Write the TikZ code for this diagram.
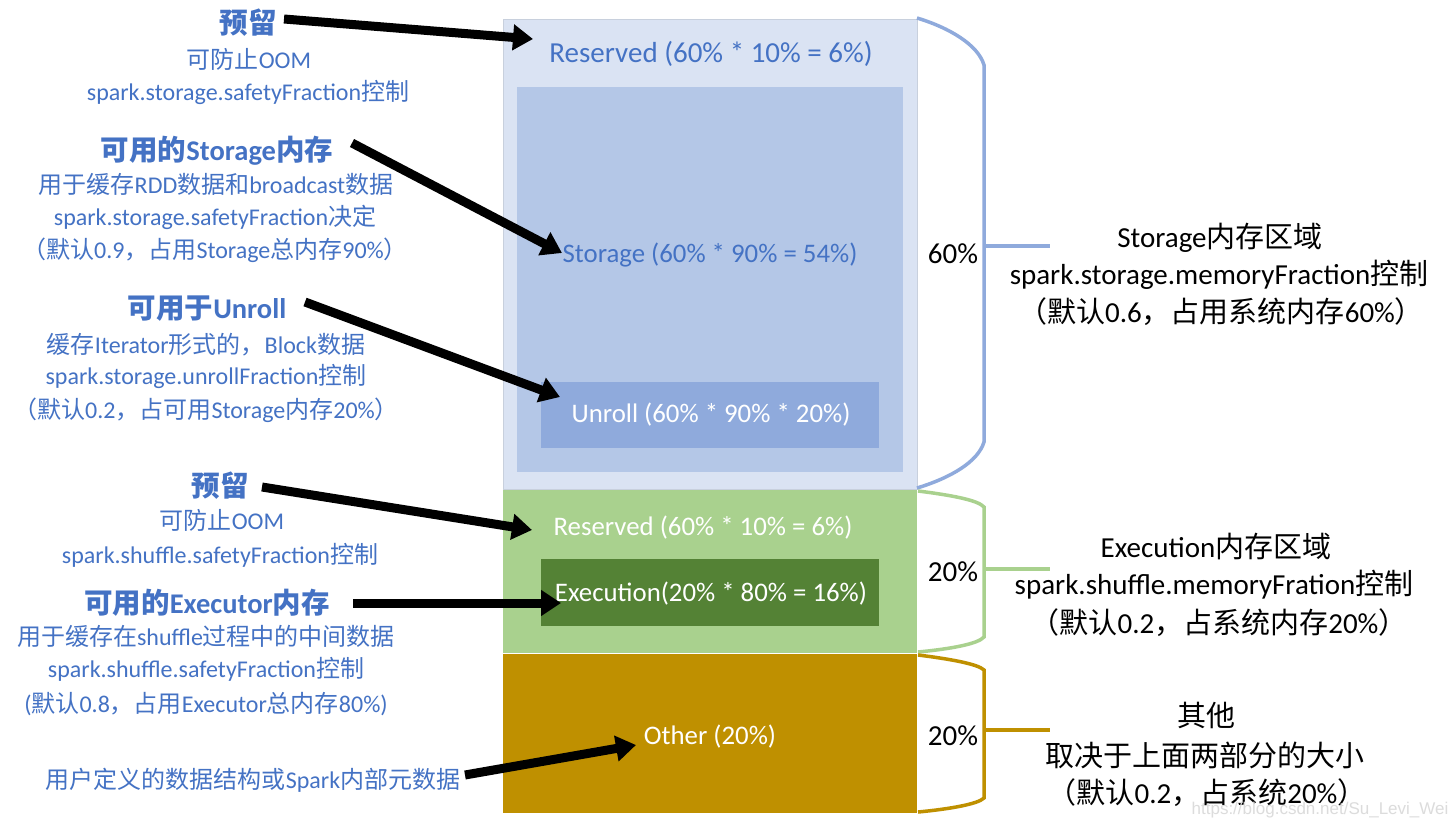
\documentclass[tikz,border=0pt]{standalone}
\usepackage{fontspec}
\setmainfont{Carlito}
\newfontfamily\cjkf{Noto Sans CJK SC}
\newfontfamily\wmfont{Liberation Sans}
\usetikzlibrary{arrows.meta}
\newcommand\zh[1]{{\cjkf #1}}
\definecolor{txtblue}{HTML}{4472C4}
\definecolor{storout}{HTML}{DAE3F3}
\definecolor{storin}{HTML}{B4C7E7}
\definecolor{unrollc}{HTML}{8FAADC}
\definecolor{greenl}{HTML}{A9D18E}
\definecolor{greend}{HTML}{548235}
\definecolor{goldc}{HTML}{BF9000}
\definecolor{borderc}{HTML}{C8D0DD}
\definecolor{wmc}{HTML}{DCDCDC}
\begin{document}
\begin{tikzpicture}[x=1pt,y=-1pt,
  lt/.style={anchor=base, text=txtblue, font=\fontsize{24}{28}\selectfont, inner sep=0pt},
  lh/.style={anchor=base, text=txtblue, font=\fontsize{28.5}{32}\selectfont\bfseries, inner sep=0pt},
  rt/.style={anchor=base, text=black, font=\fontsize{29}{33}\selectfont, inner sep=0pt},
  bl/.style={anchor=base, font=\fontsize{26.8}{31}\selectfont, inner sep=0pt},
  blbig/.style={anchor=base, font=\fontsize{29}{33}\selectfont, inner sep=0pt},
  arr/.style={line width=9pt, -{Triangle[length=20pt,width=25pt]}},
  brace/.style={line width=3.5pt}]
\useasboundingbox (0,0) rectangle (1448,827);
\fill[white] (0,0) rectangle (1448,827);

% ---- memory blocks ----
\filldraw[fill=storout, draw=borderc, line width=1pt] (503,19) rectangle (917,489);
\fill[storin] (517,87) rectangle (903,472);
\fill[unrollc] (541,382) rectangle (879,448);
\fill[greenl] (503,490) rectangle (917,653);
\fill[greend] (541,559) rectangle (879,626);
\fill[goldc] (503,654) rectangle (917,813);

% ---- block labels ----
\node[blbig, text=txtblue] (resS) at (711,62) {Reserved (60\% * 10\% = 6\%)};
\node[bl, text=txtblue] (stor) at (710,262) {Storage (60\% * 90\% = 54\%)};
\node[bl, text=white] (unr) at (711,422) {Unroll (60\% * 90\% * 20\%)};
\node[bl, text=white] (resE) at (703,535) {Reserved (60\% * 10\% = 6\%)};
\node[bl, text=white] (exe) at (711,601) {Execution(20\% * 80\% = 16\%)};
\node[bl, text=white] (oth) at (710,744) {Other (20\%)};

% ---- braces ----
\draw[brace, draw=unrollc] (917,18) .. controls (950,28) and (978,45) .. (984,65) -- (984,442) .. controls (978,462) and (950,478) .. (917,488);
\draw[brace, draw=unrollc] (984,246) -- (1050,246);
\draw[brace, draw=greenl] (918,491) .. controls (950,495) and (978,500) .. (984,507) -- (984,637) .. controls (978,644) and (950,649) .. (918,652);
\draw[brace, draw=greenl] (984,569) -- (1050,569);
\draw[brace, draw=goldc] (918,655) .. controls (950,659) and (978,664) .. (984,670) -- (984,798) .. controls (978,804) and (950,809) .. (918,812);
\draw[brace, draw=goldc] (984,730) -- (1050,730);

\node[rt] (p60) at (953,263) {60\%};
\node[rt] (p20a) at (953,581) {20\%};
\node[rt] (p20b) at (953,745) {20\%};

% ---- right texts ----
\node[rt] (r1a) at (1220,247) {Storage\zh{内存区域}};
\node[rt] (r1b) at (1219,284) {spark.storage.memoryFraction\zh{控制}};
\node[rt] (r1c) at (1221,322) {\zh{（默认}0.6\zh{，占用系统内存}60\%\zh{）}};
\node[rt] (r2a) at (1216,557) {Execution\zh{内存区域}};
\node[rt] (r2b) at (1214,594) {spark.shuffle.memoryFration\zh{控制}};
\node[rt] (r2c) at (1219,633) {\zh{（默认}0.2\zh{，占系统内存}20\%\zh{）}};
\node[rt] (r3a) at (1206,726) {\zh{其他}};
\node[rt] (r3b) at (1205,766) {\zh{取决于上面两部分的大小}};
\node[rt] (r3c) at (1207,803) {\zh{（默认}0.2\zh{，占系统}20\%\zh{）}};

% ---- left texts ----
\node[lh] (h1) at (248,33) {\zh{预留}};
\node[lt] (h1b) at (249,68) {\zh{可防止}OOM};
\node[lt] (h1c) at (248,100) {spark.storage.safetyFraction\zh{控制}};

\node[lh] (h2) at (217,160) {\zh{可用的}Storage\zh{内存}};
\node[lt] (h2b) at (216,193) {\zh{用于缓存}RDD\zh{数据和}broadcast\zh{数据}};
\node[lt] (h2c) at (215,225) {spark.storage.safetyFraction\zh{决定}};
\node[lt] (h2d) at (215,258) {\zh{（默认}0.9\zh{，占用}Storage\zh{总内存}90\%\zh{）}};

\node[lh] (h3) at (207,318) {\zh{可用于}Unroll};
\node[lt] (h3b) at (206,353) {\zh{缓存}Iterator\zh{形式的，}Block\zh{数据}};
\node[lt] (h3c) at (206,384) {spark.storage.unrollFraction\zh{控制}};
\node[lt] (h3d) at (206,418) {\zh{（默认}0.2\zh{，占可用}Storage\zh{内存}20\%\zh{）}};

\node[lh] (h4) at (220,496) {\zh{预留}};
\node[lt] (h4b) at (222,529) {\zh{可防止}OOM};
\node[lt] (h4c) at (220,563) {spark.shuffle.safetyFraction\zh{控制}};

\node[lh] (h5) at (207,613) {\zh{可用的}Executor\zh{内存}};
\node[lt] (h5b) at (206,645) {\zh{用于缓存在}shuffle\zh{过程中的中间数据}};
\node[lt] (h5c) at (206,677) {spark.shuffle.safetyFraction\zh{控制}};
\node[lt] (h5d) at (206,712) {(\zh{默认}0.8\zh{，占用}Executor\zh{总内存}80\%)};

\node[lt] (h6) at (253,788) {\zh{用户定义的数据结构或}Spark\zh{内部元数据}};

% ---- arrow end points ----
\coordinate (t1) at (284,19);   \coordinate (e1) at (533,39);
\coordinate (t2) at (352,143);  \coordinate (e2) at (562,253);
\coordinate (t3) at (305,302);  \coordinate (e3) at (560,397);
\coordinate (t4) at (262,487);  \coordinate (e4) at (532,530);
\coordinate (t5) at (353,603);  \coordinate (e5) at (561,603);
\coordinate (t6) at (465,775);  \coordinate (e6) at (636,745);

\draw[arr] (t1) -- (e1);
\draw[arr] (t2) -- (e2);
\draw[arr] (t3) -- (e3);
\draw[arr] (t4) -- (e4);
\draw[arr] (t5) -- (e5);
\draw[arr] (t6) -- (e6);

% ---- watermark ----
\node[anchor=base, inner sep=0pt, text=wmc, font=\wmfont\fontsize{17}{20}\selectfont] (wm) at (1320,814) {https://blog.csdn.net/Su\_Levi\_Wei};
\end{tikzpicture}
\end{document}
